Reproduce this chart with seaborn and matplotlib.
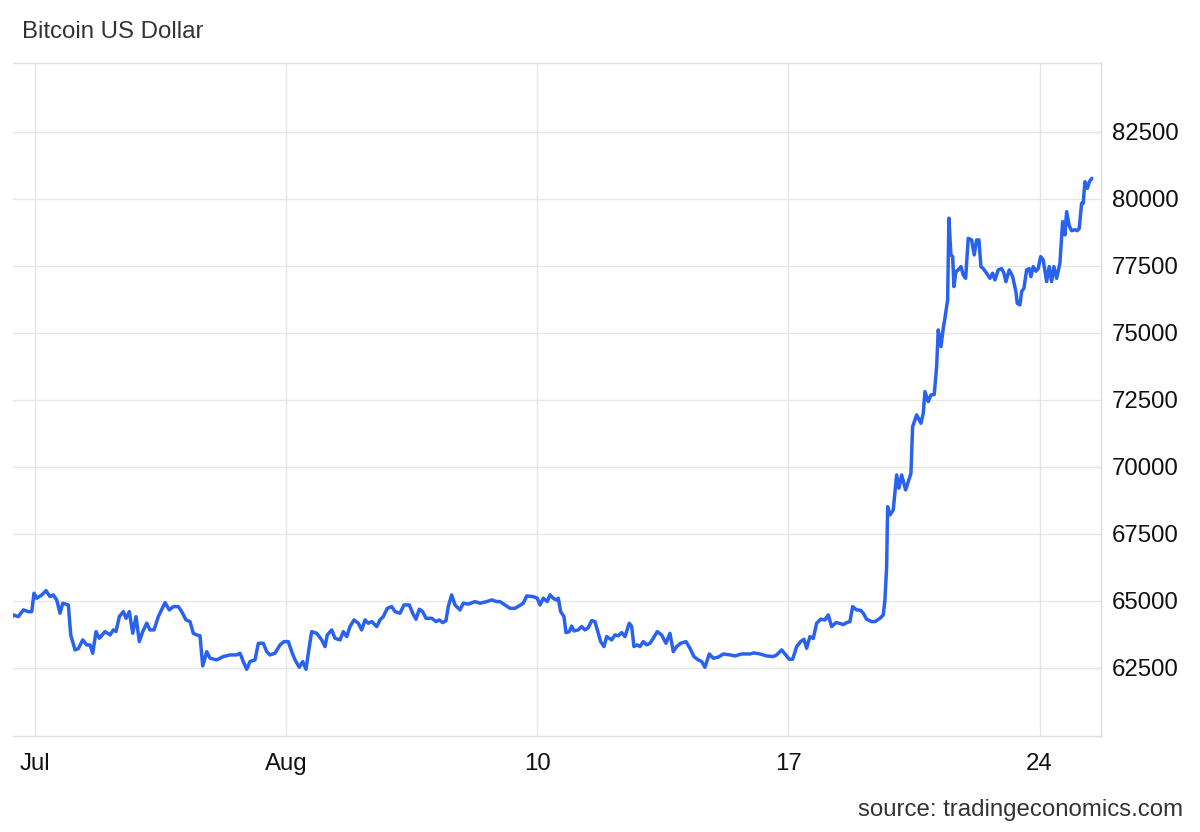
import numpy as np
import pandas as pd
import matplotlib
matplotlib.use("Agg")
import matplotlib.pyplot as plt
import seaborn as sns

# ---- data ----
days = [
    -0.682, -0.591, -0.451, -0.312, -0.173, -0.078, -0.014, 0.061, 0.201, 0.320,
    0.432, 0.524, 0.618, 0.710, 0.786, 0.942, 1.008, 1.128, 1.220, 1.343,
    1.454, 1.546, 1.621, 1.713, 1.805, 1.964, 2.103, 2.195, 2.270, 2.362,
    2.474, 2.549, 2.641, 2.735, 2.827, 2.919, 3.014, 3.125, 3.217, 3.329,
    3.448, 3.635, 3.755, 3.866, 4.006, 4.100, 4.220, 4.331, 4.423, 4.518,
    4.610, 4.685, 4.797, 4.889, 5.075, 5.259, 5.446, 5.632, 5.724, 5.816,
    5.911, 6.003, 6.142, 6.234, 6.373, 6.468, 6.560, 6.699, 6.838, 6.950,
    7.070, 7.164, 7.256, 7.376, 7.471, 7.563, 7.655, 7.721, 7.861, 8.000,
    8.092, 8.156, 8.279, 8.370, 8.510, 8.602, 8.696, 8.788, 8.900, 9.019,
    9.114, 9.206, 9.298, 9.393, 9.532, 9.624, 9.716, 9.827, 9.950, 10.042,
    10.181, 10.292, 10.440, 10.535, 10.627, 10.719, 10.813, 10.905, 11.064, 11.184,
    11.276, 11.370, 11.462, 11.526, 11.621, 11.713, 11.852, 11.944, 12.084, 12.270,
    12.409, 12.596, 12.735, 12.875, 12.967, 13.106, 13.245, 13.384, 13.504, 13.616,
    13.710, 13.894, 14.006, 14.081, 14.173, 14.281, 14.359, 14.451, 14.526, 14.591,
    14.657, 14.749, 14.805, 14.897, 14.964, 15.028, 15.148, 15.242, 15.334, 15.426,
    15.521, 15.613, 15.705, 15.771, 15.864, 15.939, 16.078, 16.170, 16.262, 16.357,
    16.448, 16.568, 16.635, 16.699, 16.791, 16.866, 16.958, 17.053, 17.145, 17.237,
    17.348, 17.471, 17.591, 17.702, 17.794, 17.889, 18.000, 18.148, 18.259, 18.370,
    18.490, 18.585, 18.677, 18.797, 18.908, 19.047, 19.187, 19.373, 19.513, 19.699,
    19.930, 20.042, 20.209, 20.396, 20.579, 20.674, 20.813, 20.905, 21.025, 21.120,
    21.231, 21.343, 21.435, 21.510, 21.602, 21.694, 21.788, 21.900, 22.019, 22.111,
    22.206, 22.326, 22.437, 22.529, 22.624, 22.716, 22.791, 22.902, 23.014, 23.086,
    23.181, 23.320, 23.412, 23.552, 23.644, 23.691, 23.738, 23.766, 23.830, 23.922,
    24.017, 24.081, 24.156, 24.267, 24.340, 24.415, 24.462, 24.574, 24.694, 24.758,
    24.805, 24.897, 24.972, 25.064, 25.131, 25.176, 25.251, 25.315, 25.362, 25.437,
    25.473, 25.529, 25.577, 25.613, 25.669, 25.733, 25.808, 25.872, 25.939, 26.011,
    26.106, 26.178, 26.245, 26.309, 26.365, 26.429, 26.524, 26.616, 26.691, 26.755,
    26.847, 26.942, 27.006, 27.061, 27.153, 27.248, 27.340, 27.376, 27.451, 27.499,
    27.563, 27.638, 27.710, 27.758, 27.822, 27.897, 27.961, 28.028, 28.100, 28.195,
    28.267, 28.334, 28.398, 28.474, 28.565, 28.641, 28.705, 28.752, 28.825, 28.891,
    28.983, 29.047, 29.103, 29.170, 29.214, 29.262, 29.331, 29.387, 29.454,
]
price = [
    64291, 64478, 64414, 64664, 64600, 64600, 65287, 65100, 65224, 65384,
    65160, 65224, 65037, 64540, 64914, 64850, 63731, 63172, 63220, 63545,
    63358, 63358, 63047, 63855, 63607, 63855, 63731, 63918, 63860, 64414,
    64600, 64352, 64600, 63793, 64414, 63482, 63855, 64167, 63918, 63918,
    64414, 64937, 64664, 64788, 64788, 64600, 64291, 64229, 63793, 63731,
    63700, 62575, 63108, 62862, 62800, 62924, 62985, 62985, 63047, 62737,
    62450, 62737, 62800, 63420, 63420, 63108, 62985, 63047, 63358, 63482,
    63482, 63108, 62800, 62525, 62737, 62450, 63296, 63855, 63793, 63545,
    63296, 63731, 63918, 63607, 63545, 63855, 63669, 64042, 64291, 64167,
    63918, 64291, 64167, 64229, 64042, 64291, 64414, 64725, 64788, 64600,
    64540, 64850, 64850, 64540, 64316, 64690, 64600, 64352, 64352, 64229,
    64290, 64190, 64260, 64788, 65224, 64850, 64664, 64914, 64880, 64974,
    64914, 64974, 65037, 64974, 64974, 64850, 64725, 64725, 64820, 64914,
    65186, 65160, 65100, 64850, 65100, 64974, 65224, 65100, 65037, 65100,
    64600, 64414, 63818, 63855, 64060, 63880, 63920, 64042, 63918, 64000,
    64265, 64229, 63793, 63482, 63296, 63669, 63545, 63731, 63700, 63818,
    63669, 64167, 64050, 63296, 63360, 63296, 63482, 63360, 63420, 63607,
    63855, 63730, 63420, 63793, 63108, 63296, 63420, 63482, 63233, 62924,
    62800, 62740, 62525, 63021, 62862, 62900, 63021, 62985, 62948, 63021,
    63021, 63060, 63021, 62948, 62924, 62985, 63172, 63021, 62824, 62824,
    63296, 63482, 63569, 63233, 63669, 63600, 64167, 64316, 64290, 64478,
    64042, 64190, 64160, 64117, 64190, 64229, 64788, 64664, 64650, 64540,
    64316, 64229, 64229, 64350, 64478, 65037, 66280, 68518, 68209, 68395,
    69700, 69205, 69700, 69141, 69451, 69763, 71503, 71940, 71629, 72002,
    72809, 72436, 72686, 72700, 73740, 75111, 74488, 75173, 75547, 76229,
    79278, 77909, 77850, 76727, 77286, 77350, 77473, 77162, 77037, 78530,
    78468, 77909, 78468, 78468, 77473, 77400, 77225, 77037, 77225, 76976,
    77349, 77400, 77225, 76913, 77349, 77100, 76540, 76105, 76042, 76540,
    76665, 77349, 77400, 77100, 77473, 77300, 77400, 77847, 77722, 76913,
    77473, 76913, 77473, 77037, 77598, 79153, 78655, 79526, 78997, 78811,
    78850, 78811, 78900, 79838, 79838, 80642, 80394, 80642, 80767,
]
x_tick_pos = [0, 7, 14, 21, 28]
x_tick_labels = ["Jul", "Aug", "10", "17", "24"]
y_ticks = [62500, 65000, 67500, 70000, 72500, 75000, 77500, 80000, 82500]

df = pd.DataFrame({"day": days, "price": price})

sns.set_theme(style="white")
plt.rcParams["font.family"] = ["Liberation Sans", "DejaVu Sans"]

fig = plt.figure(figsize=(12, 8.32), dpi=100)
ax = fig.add_axes([13 / 1200, 1 - 736 / 832, (1101 - 13) / 1200, (736 - 63) / 832])

sns.lineplot(data=df, x="day", y="price", ax=ax, color="#2962f0", linewidth=2.5,
             estimator=None, sort=False)

ax.set_xlim(-0.6, 29.71)
ax.set_ylim(59960, 85070)

ax.set_xticks(x_tick_pos)
ax.set_xticklabels(x_tick_labels)
ax.set_yticks(y_ticks)
ax.set_yticklabels([str(v) for v in y_ticks])
ax.yaxis.tick_right()
ax.tick_params(axis="y", length=0, pad=8, labelsize=17.3, labelcolor="#111111")
ax.tick_params(axis="x", length=0, pad=12, labelsize=17.3, labelcolor="#111111")
ax.set_xlabel("")
ax.set_ylabel("")

ax.grid(True, color="#e6e6e6", linewidth=1.0)
ax.spines["left"].set_visible(False)
ax.spines["top"].set_color("#e0e0e0")
ax.spines["bottom"].set_color("#dcdcdc")
ax.spines["right"].set_color("#dcdcdc")
for s in ["top", "bottom", "right"]:
    ax.spines[s].set_linewidth(1.0)

fig.text(22 / 1200, 1 - 32 / 832, "Bitcoin US Dollar", fontsize=17.3, color="#333333",
         ha="left", va="center")
fig.text(1183 / 1200, 1 - 810 / 832, "source: tradingeconomics.com", fontsize=17.3,
         color="#333333", ha="right", va="center")

fig.savefig("out.png", dpi=100, facecolor="white")
